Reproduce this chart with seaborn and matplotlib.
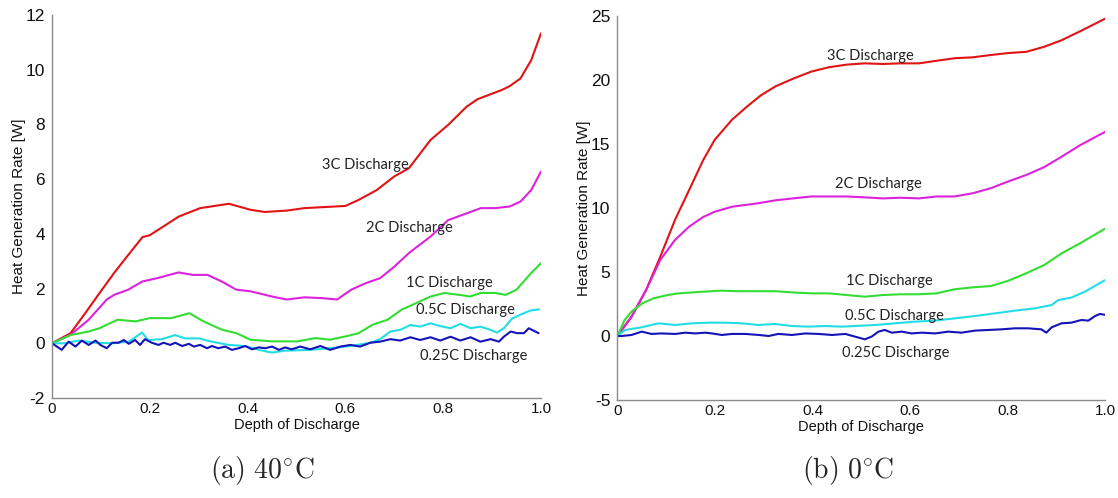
import numpy as np
import pandas as pd
import matplotlib
matplotlib.use("Agg")
import matplotlib.pyplot as plt
import seaborn as sns

# ---------------- data: (a) 40 C ----------------
a_3c_x = [0, 0.038, 0.068, 0.097, 0.127, 0.156, 0.185, 0.2, 0.259, 0.303, 0.362, 0.406, 0.435, 0.48, 0.516,
          0.6, 0.627, 0.664, 0.7, 0.73, 0.774, 0.81, 0.848, 0.87, 0.92, 0.936, 0.958, 0.98, 1.0]
a_3c_y = [0.0, 0.37, 1.1, 1.83, 2.57, 3.23, 3.88, 3.95, 4.63, 4.94, 5.1, 4.88, 4.8, 4.85, 4.94,
          5.02, 5.24, 5.6, 6.1, 6.4, 7.43, 7.98, 8.65, 8.92, 9.26, 9.4, 9.68, 10.35, 11.33]

a_2c_x = [0, 0.038, 0.075, 0.112, 0.127, 0.156, 0.185, 0.215, 0.259, 0.288, 0.318, 0.347, 0.377, 0.406, 0.45,
          0.48, 0.516, 0.553, 0.583, 0.612, 0.642, 0.671, 0.7, 0.73, 0.774, 0.81, 0.848, 0.877, 0.906, 0.936,
          0.958, 0.98, 1.0]
a_2c_y = [0.0, 0.31, 0.86, 1.6, 1.77, 1.96, 2.26, 2.38, 2.59, 2.5, 2.5, 2.26, 1.96, 1.9, 1.71,
          1.6, 1.68, 1.65, 1.6, 1.96, 2.2, 2.38, 2.8, 3.3, 3.9, 4.5, 4.75, 4.94, 4.94, 5.0,
          5.18, 5.6, 6.28]

a_1c_x = [0, 0.038, 0.075, 0.097, 0.134, 0.171, 0.2, 0.244, 0.281, 0.31, 0.347, 0.377, 0.406, 0.45, 0.502,
          0.539, 0.568, 0.6, 0.627, 0.656, 0.686, 0.715, 0.745, 0.774, 0.803, 0.833, 0.855, 0.877, 0.906,
          0.928, 0.95, 0.98, 1.0]
a_1c_y = [0.0, 0.3, 0.43, 0.55, 0.86, 0.8, 0.92, 0.92, 1.1, 0.8, 0.5, 0.37, 0.13, 0.07, 0.07,
          0.19, 0.13, 0.25, 0.37, 0.68, 0.86, 1.23, 1.47, 1.71, 1.84, 1.77, 1.71, 1.84, 1.84,
          1.77, 1.96, 2.57, 2.93]

a_05c_x = [0, 0.027, 0.054, 0.089, 0.123, 0.157, 0.184, 0.197, 0.225, 0.252, 0.272, 0.3, 0.327, 0.361, 0.395,
           0.423, 0.45, 0.477, 0.528, 0.569, 0.61, 0.651, 0.671, 0.692, 0.712, 0.733, 0.753, 0.774, 0.794,
           0.815, 0.835, 0.856, 0.876, 0.897, 0.91, 0.924, 0.941, 0.965, 0.979, 0.996]
a_05c_y = [0.0, 0.0, 0.1, 0.02, 0.0, 0.06, 0.39, 0.12, 0.15, 0.3, 0.18, 0.18, 0.06, -0.06, -0.1,
           -0.24, -0.34, -0.27, -0.24, -0.18, -0.1, 0.02, 0.15, 0.43, 0.49, 0.67, 0.61, 0.73, 0.63,
           0.55, 0.71, 0.55, 0.61, 0.49, 0.39, 0.55, 0.91, 1.1, 1.2, 1.24]

a_025c_x = [0, 0.02, 0.034, 0.048, 0.061, 0.075, 0.089, 0.099, 0.112, 0.123, 0.136, 0.147, 0.157, 0.17, 0.18,
            0.19, 0.204, 0.218, 0.228, 0.242, 0.252, 0.266, 0.28, 0.29, 0.303, 0.317, 0.327, 0.34, 0.354,
            0.368, 0.382, 0.395, 0.409, 0.423, 0.436, 0.45, 0.464, 0.477, 0.49, 0.508, 0.528, 0.549, 0.569,
            0.59, 0.61, 0.63, 0.651, 0.671, 0.692, 0.712, 0.733, 0.753, 0.774, 0.794, 0.815, 0.835, 0.856,
            0.876, 0.897, 0.914, 0.924, 0.938, 0.951, 0.965, 0.975, 0.985, 0.995]
a_025c_y = [0.0, -0.24, 0.06, -0.12, 0.1, -0.06, 0.1, -0.06, -0.18, 0.02, 0.02, 0.12, -0.02, 0.12, -0.06,
            0.15, 0.02, -0.06, 0.02, -0.06, 0.02, -0.1, -0.02, -0.12, -0.06, -0.18, -0.1, -0.18, -0.12,
            -0.24, -0.18, -0.1, -0.22, -0.15, -0.18, -0.12, -0.24, -0.15, -0.22, -0.12, -0.22, -0.1, -0.24,
            -0.12, -0.06, -0.12, 0.02, 0.06, 0.15, 0.1, 0.22, 0.12, 0.22, 0.1, 0.24, 0.1, 0.22,
            0.06, 0.15, 0.06, 0.24, 0.43, 0.37, 0.37, 0.55, 0.46, 0.37]

# ---------------- data: (b) 0 C ----------------
b_3c_x = [0, 0.029, 0.059, 0.088, 0.118, 0.147, 0.176, 0.199, 0.235, 0.265, 0.294, 0.324, 0.36, 0.397, 0.434,
          0.47, 0.507, 0.544, 0.58, 0.618, 0.654, 0.691, 0.728, 0.765, 0.8, 0.838, 0.875, 0.91, 0.948, 1.0]
b_3c_y = [0.0, 1.5, 3.6, 6.2, 9.06, 11.4, 13.75, 15.3, 16.9, 17.9, 18.8, 19.5, 20.1, 20.65, 21.0,
          21.2, 21.3, 21.25, 21.3, 21.3, 21.5, 21.7, 21.77, 21.95, 22.1, 22.2, 22.6, 23.1, 23.8, 24.8]

b_2c_x = [0, 0.029, 0.059, 0.088, 0.118, 0.147, 0.176, 0.199, 0.235, 0.287, 0.324, 0.36, 0.397, 0.47, 0.507,
          0.544, 0.58, 0.618, 0.654, 0.691, 0.728, 0.765, 0.8, 0.838, 0.875, 0.91, 0.948, 1.0]
b_2c_y = [0.0, 1.5, 3.6, 5.94, 7.5, 8.54, 9.3, 9.7, 10.1, 10.36, 10.6, 10.75, 10.9, 10.9, 10.83,
          10.75, 10.8, 10.75, 10.9, 10.9, 11.15, 11.54, 12.06, 12.58, 13.2, 14.0, 14.9, 15.96]

b_1c_x = [0, 0.015, 0.029, 0.051, 0.074, 0.103, 0.125, 0.176, 0.213, 0.25, 0.287, 0.324, 0.36, 0.397, 0.434,
          0.47, 0.507, 0.544, 0.58, 0.618, 0.654, 0.691, 0.728, 0.765, 0.8, 0.838, 0.875, 0.91, 0.948, 1.0]
b_1c_y = [0.0, 1.25, 1.9, 2.55, 2.94, 3.2, 3.33, 3.46, 3.54, 3.5, 3.5, 3.5, 3.4, 3.33, 3.33,
          3.2, 3.07, 3.2, 3.26, 3.26, 3.33, 3.65, 3.8, 3.9, 4.3, 4.9, 5.55, 6.45, 7.24, 8.4]

b_05c_x = [0, 0.016, 0.05, 0.084, 0.119, 0.153, 0.187, 0.221, 0.255, 0.289, 0.323, 0.358, 0.392, 0.426, 0.46,
           0.487, 0.528, 0.569, 0.61, 0.651, 0.692, 0.733, 0.774, 0.815, 0.856, 0.89, 0.903, 0.93, 0.958, 1.0]
b_05c_y = [0.0, 0.47, 0.68, 0.99, 0.86, 0.99, 1.04, 1.04, 0.99, 0.86, 0.94, 0.78, 0.73, 0.78, 0.73,
           0.78, 0.86, 0.99, 1.12, 1.2, 1.38, 1.56, 1.77, 1.98, 2.16, 2.42, 2.8, 3.0, 3.46, 4.38]

b_025c_x = [0, 0.009, 0.029, 0.05, 0.07, 0.09, 0.119, 0.139, 0.16, 0.18, 0.194, 0.214, 0.235, 0.262, 0.29,
            0.31, 0.33, 0.358, 0.385, 0.412, 0.44, 0.467, 0.487, 0.507, 0.521, 0.535, 0.548, 0.562, 0.583,
            0.603, 0.624, 0.651, 0.678, 0.705, 0.733, 0.76, 0.787, 0.815, 0.842, 0.869, 0.879, 0.89, 0.91,
            0.93, 0.951, 0.965, 0.979, 0.989, 1.0]
b_025c_y = [0.0, 0.0, 0.08, 0.34, 0.16, 0.2, 0.16, 0.26, 0.2, 0.26, 0.2, 0.08, 0.16, 0.16, 0.08,
            0.0, 0.16, 0.08, 0.2, 0.16, 0.08, 0.16, -0.05, -0.26, -0.05, 0.34, 0.47, 0.26, 0.34,
            0.2, 0.26, 0.2, 0.34, 0.26, 0.42, 0.47, 0.52, 0.6, 0.6, 0.52, 0.26, 0.68, 0.99,
            1.04, 1.25, 1.2, 1.56, 1.72, 1.65]

series_names = ["3C Discharge", "2C Discharge", "1C Discharge", "0.5C Discharge", "0.25C Discharge"]
series_colors = ["#e01414", "#dd22dd", "#33dd33", "#22dde6", "#1414b8"]

a_series = [(a_3c_x, a_3c_y), (a_2c_x, a_2c_y), (a_1c_x, a_1c_y), (a_05c_x, a_05c_y), (a_025c_x, a_025c_y)]
b_series = [(b_3c_x, b_3c_y), (b_2c_x, b_2c_y), (b_1c_x, b_1c_y), (b_05c_x, b_05c_y), (b_025c_x, b_025c_y)]

# label anchor positions (data coords, left edge / vertical centre)
a_label_pos = [(0.553, 6.52), (0.642, 4.21), (0.724, 2.22), (0.745, 1.2), (0.752, -0.45)]
b_label_pos = [(0.43, 21.9), (0.445, 11.85), (0.468, 4.3), (0.467, 1.56), (0.461, -1.3)]

x_ticks = [0, 0.2, 0.4, 0.6, 0.8, 1.0]
x_ticklabels = ["0", "0.2", "0.4", "0.6", "0.8", "1.0"]
a_yticks = [-2, 0, 2, 4, 6, 8, 10, 12]
b_yticks = [-5, 0, 5, 10, 15, 20, 25]
captions = [r"$\mathrm{(a)\ 40^{\circ}C}$", r"$\mathrm{(b)\ 0^{\circ}C}$"]

# ---------------- plotting ----------------
sns.set_theme(style="white")
plt.rcParams["font.family"] = ["Liberation Sans", "DejaVu Sans"]
plt.rcParams["mathtext.fontset"] = "cm"

fig = plt.figure(figsize=(11.18, 4.98), dpi=100)
ax_a = fig.add_axes([0.0465, 0.2008, 0.4374, 0.7691])
ax_b = fig.add_axes([0.5522, 0.1968, 0.4365, 0.7711])

spine_color = "#8a8a8a"

def draw(ax, series, label_pos, yticks, ylim):
    for (xs, ys), name, col in zip(series, series_names, series_colors):
        df = pd.DataFrame({"x": xs, "y": ys})
        sns.lineplot(data=df, x="x", y="y", ax=ax, color=col, linewidth=1.5,
                     estimator=None, sort=False)
    for (lx, ly), name in zip(label_pos, series_names):
        ax.text(lx, ly, name, family=["Lato", "DejaVu Sans"], fontsize=10.5,
                color="#222222", ha="left", va="center")
    ax.set_xlim(0, 1.0)
    ax.set_ylim(*ylim)
    ax.set_xticks(x_ticks)
    ax.set_xticklabels(x_ticklabels)
    ax.set_yticks(yticks)
    ax.set_yticklabels([str(t) for t in yticks])
    for s in ["top", "right"]:
        ax.spines[s].set_visible(False)
    for s in ["left", "bottom"]:
        ax.spines[s].set_color(spine_color)
        ax.spines[s].set_linewidth(1.0)
    ax.tick_params(axis="x", direction="in", length=4, color=spine_color,
                   labelsize=11, labelcolor="#111111", pad=3)
    ax.tick_params(axis="y", direction="out", length=3, color=spine_color,
                   labelsize=12.5, labelcolor="#111111", pad=2)
    ax.set_xlabel("Depth of Discharge", fontsize=10.5, color="#111111", labelpad=1)
    ax.set_ylabel("Heat Generation Rate [W]", fontsize=11, color="#111111", labelpad=0)

draw(ax_a, a_series, a_label_pos, a_yticks, (-2, 12))
draw(ax_b, b_series, b_label_pos, b_yticks, (-5, 25))

fig.text(262 / 1118, 1 - 470 / 498, captions[0], ha="center", va="center", fontsize=20)
fig.text(848 / 1118, 1 - 470 / 498, captions[1], ha="center", va="center", fontsize=20)

fig.savefig("out.png", dpi=100, facecolor="white")
